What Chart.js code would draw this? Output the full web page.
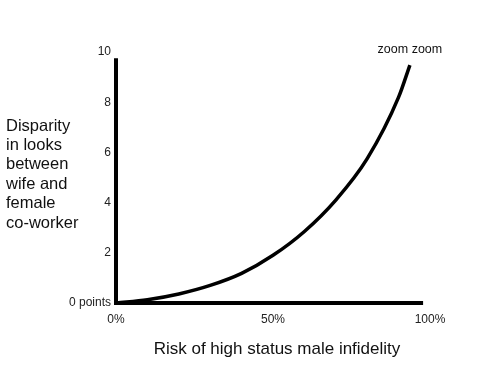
<!DOCTYPE html>
<html>
<head>
<meta charset="utf-8">
<script src="https://cdn.jsdelivr.net/npm/chart.js@4"></script>
<style>
html,body{margin:0;padding:0;background:#fff;}
#c{display:block;}
</style>
</head>
<body>
<canvas id="c" width="500" height="375"></canvas>
<script>
// Data
const riskPercent = [0, 10, 20, 30, 40, 50, 60, 70, 80, 90, 93.6];
const disparity   = [0, 0.13, 0.36, 0.7, 1.18, 1.9, 2.85, 4.1, 5.75, 8.2, 9.48];
const xTicks = [0, 50, 100];
const xTickLabels = ['0%', '50%', '100%'];
const yTicks = [0, 2, 4, 6, 8, 10];
const yTickLabels = ['0 points', '2', '4', '6', '8', '10'];
const yTitleLines = ['Disparity', 'in looks', 'between', 'wife and', 'female', 'co-worker'];
const xTitle = 'Risk of high status male infidelity';
const annotationText = 'zoom zoom';
// where the drawn axis lines stop (axis units)
const xAxisEnd = 97.8;
const yAxisEnd = 9.75;

const FONT = '"Liberation Sans", Arial, Helvetica, sans-serif';

const points = riskPercent.map((x, i) => ({x: x, y: disparity[i]}));

const axesAndText = {
  id: 'axesAndText',
  beforeDatasetsDraw(chart) {
    const ctx = chart.ctx;
    const xs = chart.scales.x, ys = chart.scales.y;
    const x0 = xs.getPixelForValue(0), y0 = ys.getPixelForValue(0);
    ctx.save();
    ctx.strokeStyle = '#000';
    ctx.lineWidth = 4;
    ctx.lineCap = 'butt';
    ctx.beginPath();
    ctx.moveTo(x0, ys.getPixelForValue(yAxisEnd));
    ctx.lineTo(x0, y0);
    ctx.lineTo(xs.getPixelForValue(xAxisEnd), y0);
    ctx.stroke();
    ctx.restore();
  },
  afterDraw(chart) {
    const ctx = chart.ctx;
    const xs = chart.scales.x, ys = chart.scales.y;
    ctx.save();
    ctx.fillStyle = '#111';
    ctx.textBaseline = 'middle';
    ctx.font = '16.5px ' + FONT;
    ctx.textAlign = 'left';
    yTitleLines.forEach((t, i) => ctx.fillText(t, 6, 126 + i * 19.4));
    ctx.font = '17px ' + FONT;
    ctx.textAlign = 'center';
    ctx.fillText(xTitle, (xs.getPixelForValue(0) + xs.getPixelForValue(100)) / 2 + 4, 349);
    const last = points[points.length - 1];
    ctx.font = '12.5px ' + FONT;
    ctx.fillText(annotationText, xs.getPixelForValue(last.x), ys.getPixelForValue(10) - 2);
    ctx.restore();
  }
};

new Chart(document.getElementById('c'), {
  type: 'line',
  data: {
    datasets: [{
      data: points,
      borderColor: '#000',
      borderWidth: 3.5,
      pointRadius: 0,
      fill: false,
      cubicInterpolationMode: 'monotone'
    }]
  },
  options: {
    responsive: false,
    animation: false,
    layout: {padding: {top: 52, right: 70, left: 0, bottom: 0}},
    plugins: {legend: {display: false}, tooltip: {enabled: false}},
    scales: {
      x: {
        type: 'linear', min: 0, max: 100,
        afterBuildTicks(s) { s.ticks = xTicks.map(v => ({value: v})); },
        afterFit(s) { s.height = 72; },
        grid: {display: false, drawTicks: false},
        border: {display: false},
        ticks: {
          padding: 9, color: '#222', maxRotation: 0,
          font: {family: FONT, size: 12},
          callback: (v) => xTickLabels[xTicks.indexOf(v)]
        }
      },
      y: {
        type: 'linear', min: 0, max: 10,
        afterBuildTicks(s) { s.ticks = yTicks.map(v => ({value: v})); },
        afterFit(s) { s.width = 116; },
        grid: {display: false, drawTicks: false},
        border: {display: false},
        ticks: {
          padding: 5, color: '#222',
          font: {family: FONT, size: 12},
          callback: (v) => yTickLabels[yTicks.indexOf(v)]
        }
      }
    }
  },
  plugins: [axesAndText]
});
</script>
</body>
</html>
